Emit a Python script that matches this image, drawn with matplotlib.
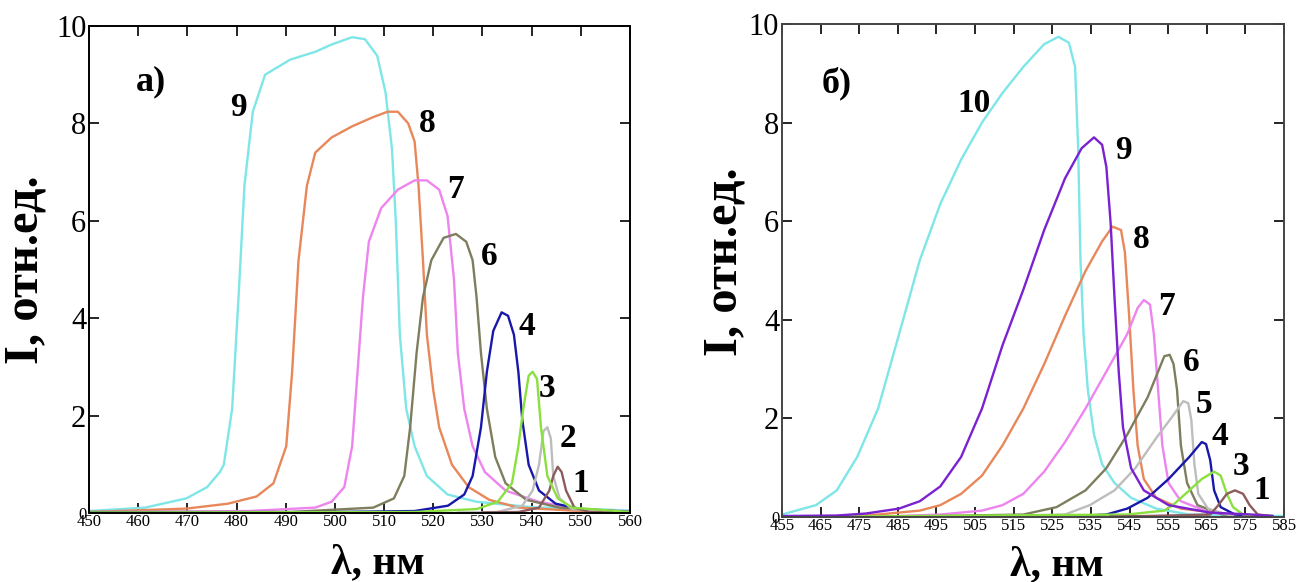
import matplotlib
matplotlib.use("Agg")
import matplotlib.pyplot as plt

plt.rcParams['font.family'] = ['Liberation Serif', 'DejaVu Serif']

# ---- панель а) : спектры, отн. ед. ----
a9_x = [450, 461.4, 469.8, 474.0, 476.6, 477.4, 479.1, 480.4, 481.6, 483.3, 485.8, 490.9, 496.0, 499.3,
        503.5, 506.1, 508.6, 510.3, 511.6, 512.4, 513.2, 514.5, 516.2, 518.7, 522.9, 528.8, 540, 560]
a9_y = [0.04, 0.11, 0.30, 0.53, 0.84, 0.99, 2.14, 4.43, 6.72, 8.24, 9.00, 9.31, 9.47, 9.62,
        9.77, 9.73, 9.39, 8.63, 7.48, 5.95, 3.66, 2.14, 1.37, 0.76, 0.38, 0.23, 0.12, 0.05]

a8_x = [450, 469.8, 478.2, 484.1, 487.5, 490.1, 491.3, 492.6, 494.3, 496.0, 499.3, 503.5, 507.8, 510.7,
        512.8, 514.9, 516.2, 517.0, 517.9, 518.7, 520.0, 521.2, 523.8, 527.2, 531.4, 537.3, 550, 560]
a8_y = [0.02, 0.09, 0.19, 0.34, 0.61, 1.37, 2.90, 5.19, 6.72, 7.40, 7.71, 7.94, 8.13, 8.24,
        8.24, 8.00, 7.63, 6.72, 5.19, 3.66, 2.52, 1.76, 0.99, 0.53, 0.27, 0.11, 0.04, 0.02]

a7_x = [450, 482.5, 496.0, 499.3, 501.9, 503.5, 504.6, 505.7, 506.9, 509.4, 512.8, 516.2, 518.7, 521.2,
        522.9, 524.2, 525.0, 526.3, 528.0, 530.5, 534.7, 541.4, 550, 560]
a7_y = [0.02, 0.04, 0.11, 0.23, 0.53, 1.37, 2.90, 4.43, 5.57, 6.26, 6.64, 6.83, 6.83, 6.64,
        6.10, 4.81, 3.28, 2.14, 1.37, 0.84, 0.46, 0.23, 0.08, 0.03]

a6_x = [450, 491, 507.8, 512.0, 514.1, 515.3, 516.6, 517.9, 519.6, 522.1, 524.6, 526.7, 528.0, 528.8,
        529.7, 530.9, 532.6, 534.7, 538.9, 545.7, 554.1, 560]
a6_y = [0.02, 0.02, 0.11, 0.30, 0.76, 1.76, 3.28, 4.43, 5.19, 5.65, 5.73, 5.57, 5.19, 4.43,
        3.28, 2.14, 1.15, 0.61, 0.27, 0.11, 0.04, 0.02]

a4_x = [450, 499.3, 516.2, 523.0, 526.3, 528.0, 529.7, 530.9, 532.2, 533.9, 535.2, 536.4, 537.3, 538.1,
        539.4, 541.5, 544.9, 550, 560]
a4_y = [0.01, 0.02, 0.04, 0.15, 0.38, 0.76, 1.76, 2.90, 3.74, 4.12, 4.05, 3.66, 2.90, 1.91,
        0.99, 0.46, 0.19, 0.08, 0.02]

a3_x = [450, 516.2, 528.8, 533.1, 536.0, 537.3, 538.3, 539.4, 540.2, 541.1, 541.9, 543.2, 545.3, 548.2, 560]
a3_y = [0.01, 0.02, 0.08, 0.23, 0.61, 1.37, 2.14, 2.82, 2.90, 2.75, 1.76, 0.76, 0.30, 0.11, 0.02]

a2_x = [525, 533.0, 538.1, 540.2, 541.5, 542.4, 543.2, 543.9, 544.4, 545.7, 548.2, 555]
a2_y = [0.01, 0.02, 0.15, 0.46, 0.99, 1.68, 1.76, 1.53, 0.76, 0.30, 0.08, 0.02]

a1_x = [530, 537.3, 541.5, 543.6, 544.4, 545.3, 546.1, 547.0, 548.7, 551.7, 556]
a1_y = [0.01, 0.02, 0.11, 0.46, 0.76, 0.95, 0.84, 0.46, 0.11, 0.02, 0.01]

a_labels = ['9', '8', '7', '6', '4', '3', '2', '1']
a_label_x = [480.4, 518.7, 524.6, 531.4, 539.0, 543.2, 547.4, 550.0]
a_label_y = [8.32, 8.00, 6.64, 5.27, 3.82, 2.56, 1.53, 0.61]

# ---- панель б) ----
b10_x = [455, 463.8, 469.2, 474.5, 479.9, 485.3, 490.7, 496.0, 501.4, 506.8, 512.1, 517.5, 522.9, 526.6,
         529.3, 530.9, 531.7, 532.3, 533.1, 534.2, 535.8, 537.9, 541.1, 545.4, 551.9, 560.5, 585]
b10_y = [0.05, 0.24, 0.54, 1.22, 2.20, 3.70, 5.21, 6.35, 7.25, 8.00, 8.60, 9.13, 9.59, 9.74,
         9.62, 9.13, 7.48, 5.21, 3.71, 2.58, 1.67, 1.07, 0.69, 0.39, 0.17, 0.05, 0.02]

b9_x = [455, 469.2, 476.7, 485.3, 490.7, 496.0, 501.4, 506.8, 512.1, 517.5, 522.9, 528.3, 532.6, 535.8,
        537.9, 539.0, 540.1, 541.1, 542.2, 543.3, 545.4, 548.7, 555.1, 565.8, 576.6, 582]
b9_y = [0.02, 0.03, 0.07, 0.17, 0.32, 0.62, 1.22, 2.20, 3.48, 4.61, 5.82, 6.87, 7.48, 7.70,
        7.55, 7.10, 5.97, 4.46, 2.95, 1.82, 0.99, 0.54, 0.24, 0.09, 0.05, 0.02]

b8_x = [469.2, 479.9, 490.7, 496.0, 501.4, 506.8, 512.1, 517.5, 522.9, 528.3, 533.6, 537.9, 540.6, 542.8,
        543.8, 544.9, 546.0, 547.1, 548.7, 551.9, 558.3, 571.2]
b8_y = [0.02, 0.05, 0.13, 0.24, 0.47, 0.84, 1.45, 2.20, 3.10, 4.08, 4.99, 5.59, 5.89, 5.82,
        5.37, 4.08, 2.58, 1.45, 0.77, 0.39, 0.17, 0.05]

b7_x = [485.3, 496.0, 506.8, 512.1, 517.5, 522.9, 528.3, 533.6, 539.0, 544.4, 547.1, 548.7, 550.3, 551.3,
        552.4, 553.5, 555.1, 558.3, 565.8, 575]
b7_y = [0.02, 0.05, 0.13, 0.24, 0.47, 0.92, 1.52, 2.20, 2.95, 3.71, 4.24, 4.40, 4.31, 3.71,
        2.58, 1.45, 0.69, 0.32, 0.09, 0.02]

b6_x = [496, 517.5, 526.1, 533.6, 539.0, 544.4, 549.7, 552.4, 554.0, 555.4, 556.4, 557.3, 558.3, 559.9,
        562.6, 569.1, 575]
b6_y = [0.02, 0.05, 0.20, 0.54, 0.99, 1.67, 2.43, 2.95, 3.26, 3.29, 3.10, 2.58, 1.45, 0.69,
        0.24, 0.05, 0.02]

b5_x = [512.1, 528.3, 534.7, 541.1, 546.5, 551.9, 556.2, 558.9, 560.2, 561.0, 561.8, 562.8, 565.3, 571.2, 578]
b5_y = [0.02, 0.05, 0.24, 0.54, 0.99, 1.60, 2.05, 2.35, 2.31, 1.97, 1.07, 0.47, 0.17, 0.03, 0.02]

b4_x = [531.5, 539.0, 544.4, 549.7, 555.1, 560.5, 563.7, 564.8, 565.9, 566.9, 568.6, 572.3, 580]
b4_y = [0.02, 0.05, 0.17, 0.39, 0.77, 1.22, 1.52, 1.48, 1.15, 0.54, 0.20, 0.05, 0.02]

b3_x = [471.3, 544.4, 554.0, 556.2, 560.5, 563.7, 566.9, 568.6, 570.2, 571.8, 574.4, 580]
b3_y = [0.01, 0.05, 0.13, 0.24, 0.54, 0.77, 0.92, 0.84, 0.47, 0.20, 0.05, 0.02]

b1_x = [540, 549.7, 565.9, 568.0, 570.2, 572.3, 574.4, 576.1, 578.2, 582]
b1_y = [0.01, 0.02, 0.05, 0.24, 0.47, 0.54, 0.47, 0.24, 0.05, 0.02]

b_labels = ['10', '9', '8', '7', '6', '5', '4', '3', '1']
b_label_x = [504.6, 543.3, 548.1, 554.6, 561.0, 564.2, 568.5, 573.9, 579.3]
b_label_y = [8.38, 7.44, 5.63, 4.27, 3.14, 2.28, 1.64, 1.03, 0.54]

c_cyan = '#7FE6E8'
c_purple = '#7A22D2'
c_orange = '#E8875A'
c_pink = '#EE84EE'
c_olive = '#7E7E5E'
c_gray = '#BDBDBD'
c_blue = '#1818AA'
c_green = '#8AE03E'
c_brown = '#8C5C5C'

a_curves = [(a9_x, a9_y, c_cyan), (a8_x, a8_y, c_orange), (a7_x, a7_y, c_pink),
            (a6_x, a6_y, c_olive), (a4_x, a4_y, c_blue), (a2_x, a2_y, c_gray),
            (a1_x, a1_y, c_brown), (a3_x, a3_y, c_green)]
b_curves = [(b10_x, b10_y, c_cyan), (b8_x, b8_y, c_orange), (b7_x, b7_y, c_pink),
            (b6_x, b6_y, c_olive), (b5_x, b5_y, c_gray), (b4_x, b4_y, c_blue),
            (b3_x, b3_y, c_green), (b1_x, b1_y, c_brown), (b9_x, b9_y, c_purple)]

fig = plt.figure(figsize=(13, 5.82), dpi=100)
ax1 = fig.add_axes([0.0685, 0.1186, 0.4161, 0.8367])
ax2 = fig.add_axes([0.6015, 0.1117, 0.3862, 0.8471])


def style_axes(ax, curves, xticks, xlim, spine_color, lbl_pos_y, lbl_pos_x):
    for x, y, c in curves:
        ax.plot(x, y, color=c, lw=1.7)
    ax.set_xlim(*xlim)
    ax.set_ylim(0, 10)
    ax.set_xticks(xticks)
    ax.set_xticklabels([str(t) for t in xticks], fontsize=12)
    ax.set_yticks([0, 2, 4, 6, 8, 10])
    ax.set_yticklabels(['0', '2', '4', '6', '8', '10'], fontsize=22)
    ax.get_yticklabels()[0].set_fontsize(12)
    ax.tick_params(direction='in', length=7, width=1.2, top=True, right=True, pad=2)
    ax.tick_params(axis='x', pad=1)
    for s in ax.spines.values():
        s.set_color(spine_color)
        s.set_linewidth(1.4)
    ax.set_ylabel('I, отн.ед.', fontsize=35, fontweight='bold')
    ax.set_xlabel('λ, нм', fontsize=30, fontweight='bold')
    ax.yaxis.set_label_coords(*lbl_pos_y)
    ax.xaxis.set_label_coords(*lbl_pos_x)


style_axes(ax1, a_curves, list(range(450, 561, 10)), (450, 560), 'black', (-0.076, 0.5), (0.534, -0.064))
style_axes(ax2, b_curves, list(range(455, 586, 10)), (455, 585), '#444444', (-0.070, 0.517), (0.548, -0.060))

for t, x, y in zip(a_labels, a_label_x, a_label_y):
    ax1.text(x, y, t, fontsize=24, fontweight='bold', ha='center', va='center')
for t, x, y in zip(b_labels, b_label_x, b_label_y):
    ax2.text(x, y, t, fontsize=24, fontweight='bold', ha='center', va='center')

ax1.text(462.6, 8.85, 'а)', fontsize=26, fontweight='bold', ha='center', va='center')
ax2.text(469.2, 8.79, 'б)', fontsize=26, fontweight='bold', ha='center', va='center')

fig.savefig('out.png', dpi=100, facecolor='white')
